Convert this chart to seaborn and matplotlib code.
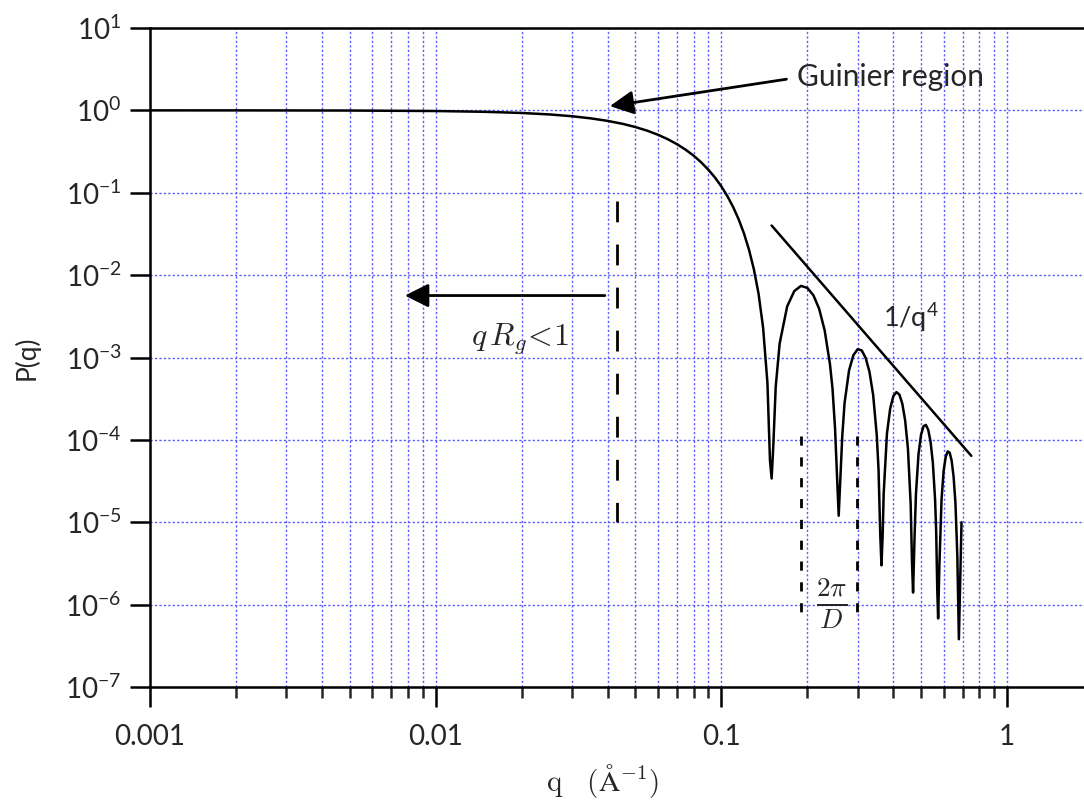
import numpy as np
import pandas as pd
import seaborn as sns
import matplotlib.pyplot as plt
from matplotlib.ticker import LogLocator, NullFormatter

# sphere form factor
q_vals = [0.001, 0.002, 0.005, 0.01, 0.015, 0.02, 0.025, 0.03, 0.035, 0.04,
          0.045, 0.05, 0.055, 0.06, 0.065, 0.07, 0.075, 0.08, 0.085, 0.09,
          0.095, 0.10, 0.105, 0.11, 0.115, 0.12, 0.125, 0.13, 0.135, 0.14,
          0.145, 0.148, 0.150, 0.152, 0.155, 0.16, 0.17, 0.18, 0.19, 0.20,
          0.21, 0.22, 0.23, 0.24, 0.245, 0.25, 0.2575, 0.265, 0.27, 0.28,
          0.29, 0.30, 0.31, 0.32, 0.33, 0.34, 0.35, 0.355, 0.36, 0.3635,
          0.367, 0.37, 0.38, 0.39, 0.40, 0.41, 0.42, 0.43, 0.44, 0.45,
          0.46, 0.465, 0.469, 0.475, 0.48, 0.49, 0.50, 0.51, 0.52, 0.53,
          0.54, 0.55, 0.56, 0.565, 0.57, 0.574, 0.58, 0.59, 0.60, 0.61,
          0.62, 0.63, 0.64, 0.65, 0.66, 0.67, 0.6785, 0.693]
p_vals = [1.0, 0.9998, 0.9955, 0.982, 0.960, 0.930, 0.893, 0.849, 0.799, 0.745,
          0.688, 0.628, 0.567, 0.506, 0.446, 0.388, 0.333, 0.282, 0.234, 0.191,
          0.153, 0.1195, 0.0909, 0.0670, 0.0475, 0.0321, 0.0203, 0.01175, 0.00594, 0.00231,
          4.9e-4, 5.6e-5, 3.4e-5, 8.4e-5, 4.4e-4, 1.48e-3, 4.17e-3, 6.4e-3, 7.4e-3, 7.0e-3,
          5.7e-3, 3.9e-3, 2.13e-3, 8.3e-4, 4.2e-4, 1.4e-4, 1.2e-5, 1.1e-4, 2.8e-4, 7.0e-4,
          1.07e-3, 1.26e-3, 1.22e-3, 9.9e-4, 6.7e-4, 3.5e-4, 1.14e-4, 4.4e-5, 7.1e-6, 3.0e-6,
          6.8e-6, 2.2e-5, 1.2e-4, 2.4e-4, 3.4e-4, 3.8e-4, 3.55e-4, 2.75e-4, 1.72e-4, 7.8e-5,
          1.67e-5, 3.2e-6, 1.4e-6, 7.2e-6, 2.2e-5, 6.7e-5, 1.15e-4, 1.46e-4, 1.52e-4, 1.32e-4,
          9.5e-5, 5.3e-5, 1.9e-5, 7.8e-6, 1.5e-6, 6.8e-7, 3.1e-6, 1.9e-5, 4.2e-5, 6.2e-5,
          7.25e-5, 7.0e-5, 5.6e-5, 3.6e-5, 1.7e-5, 3.9e-6, 3.8e-7, 1.0e-5]

# porod slope guide
porod_q = [0.15, 0.75]
porod_p = [0.04, 6.4e-5]

# marker lines
guinier_q = [0.0431, 0.0431]
guinier_p = [0.08, 1e-5]
period_q = [0.1895, 0.2973]
period_p = [1.1e-4, 6.4e-7]

xtick_vals = [0.001, 0.01, 0.1, 1]
xtick_labels = ['0.001', '0.01', '0.1', '1']
ytick_vals = [1e-7, 1e-6, 1e-5, 1e-4, 1e-3, 1e-2, 1e-1, 1e0, 1e1]
ytick_labels = ['10$^{-7}$', '10$^{-6}$', '10$^{-5}$', '10$^{-4}$', '10$^{-3}$',
                '10$^{-2}$', '10$^{-1}$', '10$^{0}$', '10$^{1}$']

sns.set_style('ticks')
plt.rcParams['font.family'] = ['Lato', 'DejaVu Sans']
plt.rcParams['mathtext.fontset'] = 'custom'
plt.rcParams['mathtext.rm'] = 'Lato'
plt.rcParams['mathtext.it'] = 'Lato:italic'
plt.rcParams['mathtext.bf'] = 'Lato:bold'

fig = plt.figure(figsize=(10.84, 8.02), dpi=100)
ax = fig.add_axes([150 / 1084, 115 / 802, 934 / 1084, 659 / 802])

df = pd.DataFrame({'q': q_vals, 'P': p_vals})
sns.lineplot(data=df, x='q', y='P', estimator=None, sort=False,
             color='black', lw=1.8, ax=ax)
ax.plot(porod_q, porod_p, color='black', lw=1.8)
ax.plot(guinier_q, guinier_p, color='black', lw=2.0,
        linestyle=(0, (7.5, 8)))
for xq in period_q:
    ax.plot([xq, xq], period_p, color='black', lw=2.0,
            linestyle=(0, (3.3, 4.2)))

ax.set_xscale('log')
ax.set_yscale('log')
ax.set_xlim(0.001, 1.86)
ax.set_ylim(1e-7, 1e1)

ax.set_xticks(xtick_vals, labels=xtick_labels)
ax.xaxis.set_minor_locator(LogLocator(base=10, subs=np.arange(2, 10), numticks=20))
ax.xaxis.set_minor_formatter(NullFormatter())
ax.set_yticks(ytick_vals, labels=ytick_labels)
ax.yaxis.set_minor_locator(plt.NullLocator())

ax.tick_params(axis='both', which='major', length=14.5, width=1.8,
               direction='out', labelsize=20, color='black')
ax.tick_params(axis='x', which='minor', length=8, width=1.8, direction='out')
ax.tick_params(axis='x', which='major', pad=12)
ax.tick_params(axis='y', which='major', pad=6)

grid_kw = dict(color='#5a5aff', lw=1.0, linestyle=(0, (1.6, 1.6)))
ax.grid(True, axis='x', which='both', **grid_kw)
ax.grid(True, axis='y', which='major', **grid_kw)
ax.set_axisbelow(True)

for side in ['left', 'bottom', 'top']:
    ax.spines[side].set_linewidth(1.8)
    ax.spines[side].set_color('black')
ax.spines['right'].set_visible(False)

ax.set_xlabel(r'$\mathrm{q}\quad(\mathrm{\AA}^{-1})$', fontsize=21,
              math_fontfamily='cm', va='bottom')
ax.xaxis.set_label_coords(0.484, -0.1715)
ax.set_ylabel('P(q)', fontsize=19)
ax.yaxis.set_label_coords(-0.118, 0.5)

# annotations
arrow_kw = dict(arrowstyle='-|>,head_length=0.4,head_width=0.2',
                mutation_scale=36, color='black', lw=2, shrinkA=0, shrinkB=0)
ax.annotate('', xy=(0.0407, 1.125), xytext=(0.169, 2.39), arrowprops=arrow_kw)
ax.text(0.184, 2.54, 'Guinier region', fontsize=21.5, ha='left', va='center')

ax.annotate('', xy=(0.0078, 5.65e-3), xytext=(0.0391, 5.65e-3),
            arrowprops=arrow_kw)
ax.text(0.0197, 1.65e-3, r'$q\,R_g\!<\!1$', fontsize=23, ha='center',
        va='center', math_fontfamily='cm')

ax.text(0.367, 3.05e-3, '1/q$^4$', fontsize=19.5, ha='left', va='center')
ax.text(0.2432, 1.04e-6, r'$\frac{2\pi}{D}$', fontsize=28, ha='center',
        va='center', math_fontfamily='cm')

fig.savefig('out.png', dpi=100)
